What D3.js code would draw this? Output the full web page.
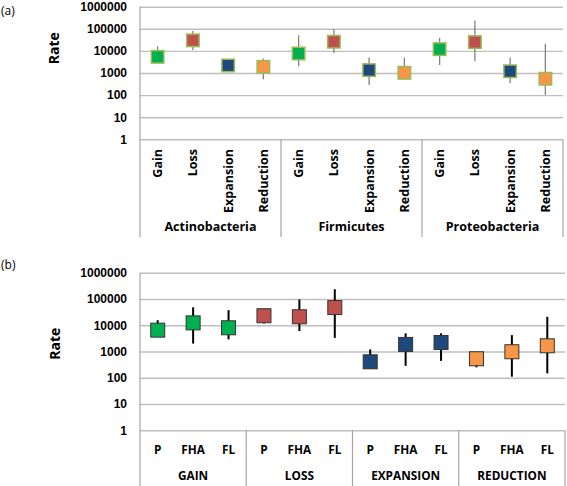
<!DOCTYPE html>
<html>
<head>
<meta charset="utf-8">
<script src="https://cdn.jsdelivr.net/npm/d3@7"></script>
<style>
  body { margin: 0; background: #fff; }
  svg { display: block; font-family: "Open Sans", sans-serif; }
  .tick text { font-weight: bold; fill: #000; }
</style>
</head>
<body>
<div id="chart"></div>
<script>
// ---- panel (a): rates by phylum ----
var phyla = ["Actinobacteria", "Firmicutes", "Proteobacteria"];
var eventsA = ["Gain", "Loss", "Expansion", "Reduction"];
var rateA = [5400, 30000, 2200, 1900,   7600, 26000, 1350, 1020,   12000, 25000, 1200, 550];
var lowA  = [4000, 11000, 1500,  515,   2000,  8100,  285,  700,    2300,  3400,  340, 100];
var highA = [16000, 80000, 3000, 4500, 51000, 95000, 5000, 5000,   39000, 240000, 5000, 21000];

// ---- panel (b): rates by event and lifestyle ----
var eventsB = ["GAIN", "LOSS", "EXPANSION", "REDUCTION"];
var groupsB = ["P", "FHA", "FL"];
var rateB = [6500, 12300, 8000,   23000, 21000, 47000,   405, 1860, 2200,   530, 980, 1650];
var lowB  = [5000,  2000, 2900,   11700,  6000,  3300,   300,  285,  440,   250, 110,  147];
var highB = [15600, 48000, 37500, 30000, 96000, 235000, 1200, 4900, 4900,   600, 4200, 21000];

var yTicks = [1, 10, 100, 1000, 10000, 100000, 1000000];
var colors = ["#00B050", "#C0504D", "#1F497D", "#F79646"];

var svg = d3.select("#chart").append("svg")
    .attr("width", 567)
    .attr("height", 486);

function drawPanel(o) {
  var x = d3.scaleBand().domain(o.items.map(function(d, i) { return i; }))
      .range([o.left, o.right]);
  var y = d3.scaleLog().domain([1, 1000000]).range([o.bottom, o.top]);
  var g = svg.append("g");

  // grid lines
  g.append("g")
      .attr("transform", "translate(" + o.left + ",0)")
      .call(d3.axisLeft(y).tickValues(yTicks).tickSize(-(o.right - o.left)).tickFormat(""))
      .call(function(s) {
        s.select(".domain").remove();
        s.selectAll(".tick line").attr("stroke", "#BFBFBF").attr("stroke-width", 1.4);
      });

  // tick labels
  g.append("g")
      .attr("transform", "translate(" + o.left + ",0)")
      .call(d3.axisLeft(y).tickValues(yTicks).tickSize(0).tickPadding(13).tickFormat(d3.format("d")))
      .call(function(s) {
        s.select(".domain").remove();
        s.selectAll(".tick text").style("font-size", "12px");
      });

  // left axis line and category box lines
  g.append("line")
      .attr("x1", o.left).attr("x2", o.left)
      .attr("y1", o.top).attr("y2", o.boxBottom)
      .attr("stroke", "#A6A6A6").attr("stroke-width", 1.2);
  var n = o.items.length / o.groups.length;
  var bounds = o.groups.map(function(d, i) { return i * n; }).slice(1);
  g.selectAll(".div").data(bounds.concat([o.items.length]))
    .enter().append("line")
      .attr("x1", function(d) { return d < o.items.length ? x(d) : o.right; })
      .attr("x2", function(d) { return d < o.items.length ? x(d) : o.right; })
      .attr("y1", o.bottom).attr("y2", o.boxBottom)
      .attr("stroke", "#A6A6A6").attr("stroke-width", 1.2);

  // error bars
  g.selectAll(".err").data(o.values)
    .enter().append("line")
      .attr("x1", function(d, i) { return x(i) + x.bandwidth() / 2; })
      .attr("x2", function(d, i) { return x(i) + x.bandwidth() / 2; })
      .attr("y1", function(d, i) { return y(o.low[i]); })
      .attr("y2", function(d, i) { return y(o.high[i]); })
      .attr("stroke", o.errColor).attr("stroke-width", o.errWidth);

  // markers
  g.selectAll(".mark").data(o.values)
    .enter().append("rect")
      .attr("x", function(d, i) { return x(i) + x.bandwidth() / 2 - o.size / 2; })
      .attr("y", function(d) { return y(d) - o.size / 2; })
      .attr("width", o.size).attr("height", o.size)
      .attr("fill", function(d, i) { return colors[o.colorOf(i)]; })
      .attr("stroke", o.markStroke).attr("stroke-width", o.markStrokeW);

  // item labels
  var lab = g.selectAll(".lab").data(o.items)
    .enter().append("text")
      .style("font-size", o.fontSize).style("font-weight", "bold")
      .text(function(d) { return d; });
  if (o.rotate) {
    lab.attr("transform", function(d, i) {
          return "translate(" + (x(i) + x.bandwidth() / 2) + "," + o.itemY + ") rotate(-90)";
        })
        .attr("text-anchor", "end").attr("dy", "0.36em");
  } else {
    lab.attr("x", function(d, i) { return x(i) + x.bandwidth() / 2; })
        .attr("y", o.itemY).attr("text-anchor", "middle");
  }

  // group labels
  g.selectAll(".grp").data(o.groups)
    .enter().append("text")
      .attr("x", function(d, i) { return (x(i * n) + x(i * n + n - 1) + x.bandwidth()) / 2; })
      .attr("y", o.groupY)
      .attr("text-anchor", "middle")
      .style("font-size", o.fontSize).style("font-weight", "bold")
      .text(function(d) { return d; });

  // y title
  g.append("text")
      .attr("transform", "translate(" + o.titleX + "," + ((o.top + o.bottom) / 2 + o.titleShift) + ") rotate(-90)")
      .attr("text-anchor", "middle").attr("dy", "0.36em")
      .style("font-size", "14px").style("font-weight", "bold")
      .text("Rate");

  g.append("text")
      .attr("x", 1).attr("y", o.tagY)
      .style("font-size", "12px")
      .text(o.tag);
}

var itemsA = [];
phyla.forEach(function(p) { eventsA.forEach(function(e) { itemsA.push(e); }); });
drawPanel({
  items: itemsA, groups: phyla, values: rateA, low: lowA, high: highA,
  colorOf: function(i) { return i % 4; },
  left: 140, right: 563, top: 6.7, bottom: 139.3, boxBottom: 237,
  size: 12.5, markStroke: "#9BBB59", markStrokeW: 1.5,
  errColor: "#808080", errWidth: 1.3,
  rotate: true, itemY: 149, groupY: 231, fontSize: "12.5px",
  titleX: 54, titleShift: -24.7, tag: "(a)", tagY: 15
});

var itemsB = [];
eventsB.forEach(function(e) { groupsB.forEach(function(gname) { itemsB.push(gname); }); });
drawPanel({
  items: itemsB, groups: eventsB, values: rateB, low: lowB, high: highB,
  colorOf: function(i) { return Math.floor(i / 3); },
  left: 140, right: 565, top: 272.7, bottom: 430.3, boxBottom: 486,
  size: 14, markStroke: "#333", markStrokeW: 1,
  errColor: "#000", errWidth: 2,
  rotate: false, itemY: 454, groupY: 480, fontSize: "11.8px",
  titleX: 55, titleShift: -7.8, tag: "(b)", tagY: 269
});
</script>
</body>
</html>
